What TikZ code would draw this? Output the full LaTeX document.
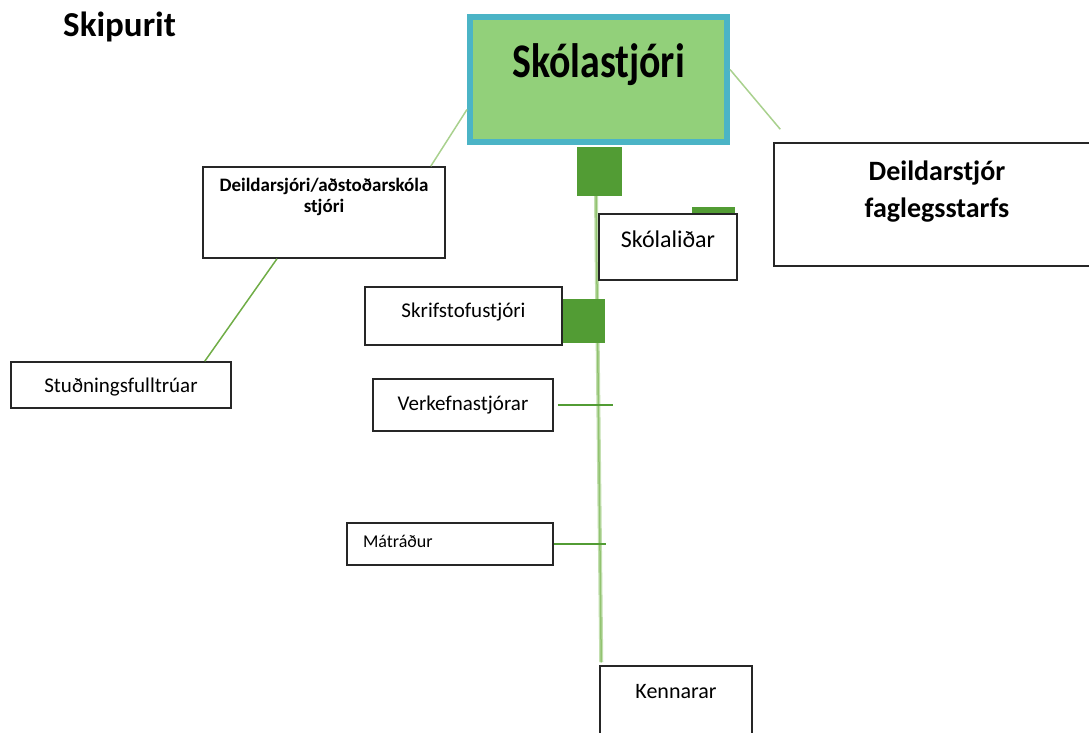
\documentclass[tikz,border=0pt]{standalone}
\usepackage{fontspec}
\setmainfont{Carlito}
\usepackage{graphicx}
\usepackage{xcolor}
\definecolor{headfill}{RGB}{146,208,122}
\definecolor{headline}{RGB}{75,180,198}
\definecolor{jointgreen}{RGB}{82,156,52}
\definecolor{palegreen}{RGB}{169,209,142}
\definecolor{midgreen}{RGB}{112,173,71}

\begin{document}
\begin{tikzpicture}[x=1pt,y=-1pt,
  box/.style={draw=black!85,line width=1.5pt,fill=white,inner sep=0pt,font=\fontsize{21}{25}\selectfont},
  head/.style={draw=headline,line width=6pt,fill=headfill,inner sep=0pt,font=\bfseries\fontsize{42}{50}\selectfont},
  joint/.style={fill=jointgreen,inner sep=0pt},
  link/.style={palegreen,line width=1.5pt},
  tick/.style={jointgreen,line width=2.5pt}
]
\useasboundingbox (0,0) rectangle (1089,733);

\node[anchor=base west,inner sep=0pt,font=\bfseries\fontsize{35}{40}\selectfont] (title) at (63,37) {Skipurit};

\node[head,minimum width=257pt,minimum height=125pt,text height=31pt,text depth=34pt] (head) at (598.5,79.5) {\scalebox{0.95}[1.15]{Skólastjóri}};
\node[box,minimum width=242pt,minimum height=91pt,font=\bfseries\fontsize{19}{21}\selectfont,align=center,text height=34pt,text depth=35pt] (dept) at (324,212.5) {Deildarsjóri/aðstoðarskóla\\stjóri};
\node[box,minimum width=326pt,minimum height=123pt,font=\bfseries\fontsize{28}{37}\selectfont,align=center,text height=50pt,text depth=25pt] (fag) at (937,204.5) {Deildarstjór\\faglegsstarfs};
\node[box,minimum width=220pt,minimum height=46pt,text height=15pt,text depth=1pt] (stud) at (121,385) {Stuðningsfulltrúar};

\draw[link] ([yshift=-30pt]head.west) -- ([xshift=-15pt]dept.north east);
\draw[link] ([yshift=10pt]head.east) -- ([shift={(7pt,13pt)}]fag.north west);
\draw[midgreen,line width=1.5pt] ([xshift=-47pt]dept.south) -- ([xshift=-27pt]stud.north east);

\node[box,minimum width=152pt,minimum height=90pt,font=\fontsize{22}{26}\selectfont,text height=15pt,text depth=40pt] (kenn) at (676,711) {Kennarar};
\node[joint,minimum width=45pt,minimum height=49pt] (sq1) at (599.5,171.5) {};

\draw[palegreen!70,line width=4pt] ([xshift=-3.5pt]sq1.south) -- ([shift={(2pt,3pt)}]kenn.north west);
\draw[palegreen!60!midgreen,line width=1.5pt] ([xshift=-3.5pt]sq1.south) -- ([shift={(2pt,3pt)}]kenn.north west);

\node[joint,minimum width=43pt,minimum height=43pt] (sq2) at (713.5,228.5) {};
\node[box,minimum width=138pt,minimum height=66pt,font=\fontsize{24}{28}\selectfont,text height=14pt,text depth=14pt] (skol) at (668,247) {Skólaliðar};
\node[joint,minimum width=43pt,minimum height=44pt] (sq3) at (583.5,321) {};
\node[box,minimum width=197pt,minimum height=58pt,text height=15pt,text depth=13pt] (skrif) at (463.5,316) {Skrifstofustjóri};
\node[box,minimum width=180pt,minimum height=52pt,text height=15pt,text depth=5pt] (verk) at (463,405) {Verkefnastjórar};
\node[box,minimum height=42pt,inner xsep=16pt,text width=174pt,align=left,font=\fontsize{18}{22}\selectfont,text height=12pt,text depth=6pt] (mat) at (450,544) {Mátráður};

\coordinate (verkend) at (613,405);
\coordinate (matend) at (606,544);
\draw[tick] ([xshift=4pt]verk.east) -- (verkend);
\draw[tick] (mat.east) -- (matend);
\end{tikzpicture}
\end{document}
